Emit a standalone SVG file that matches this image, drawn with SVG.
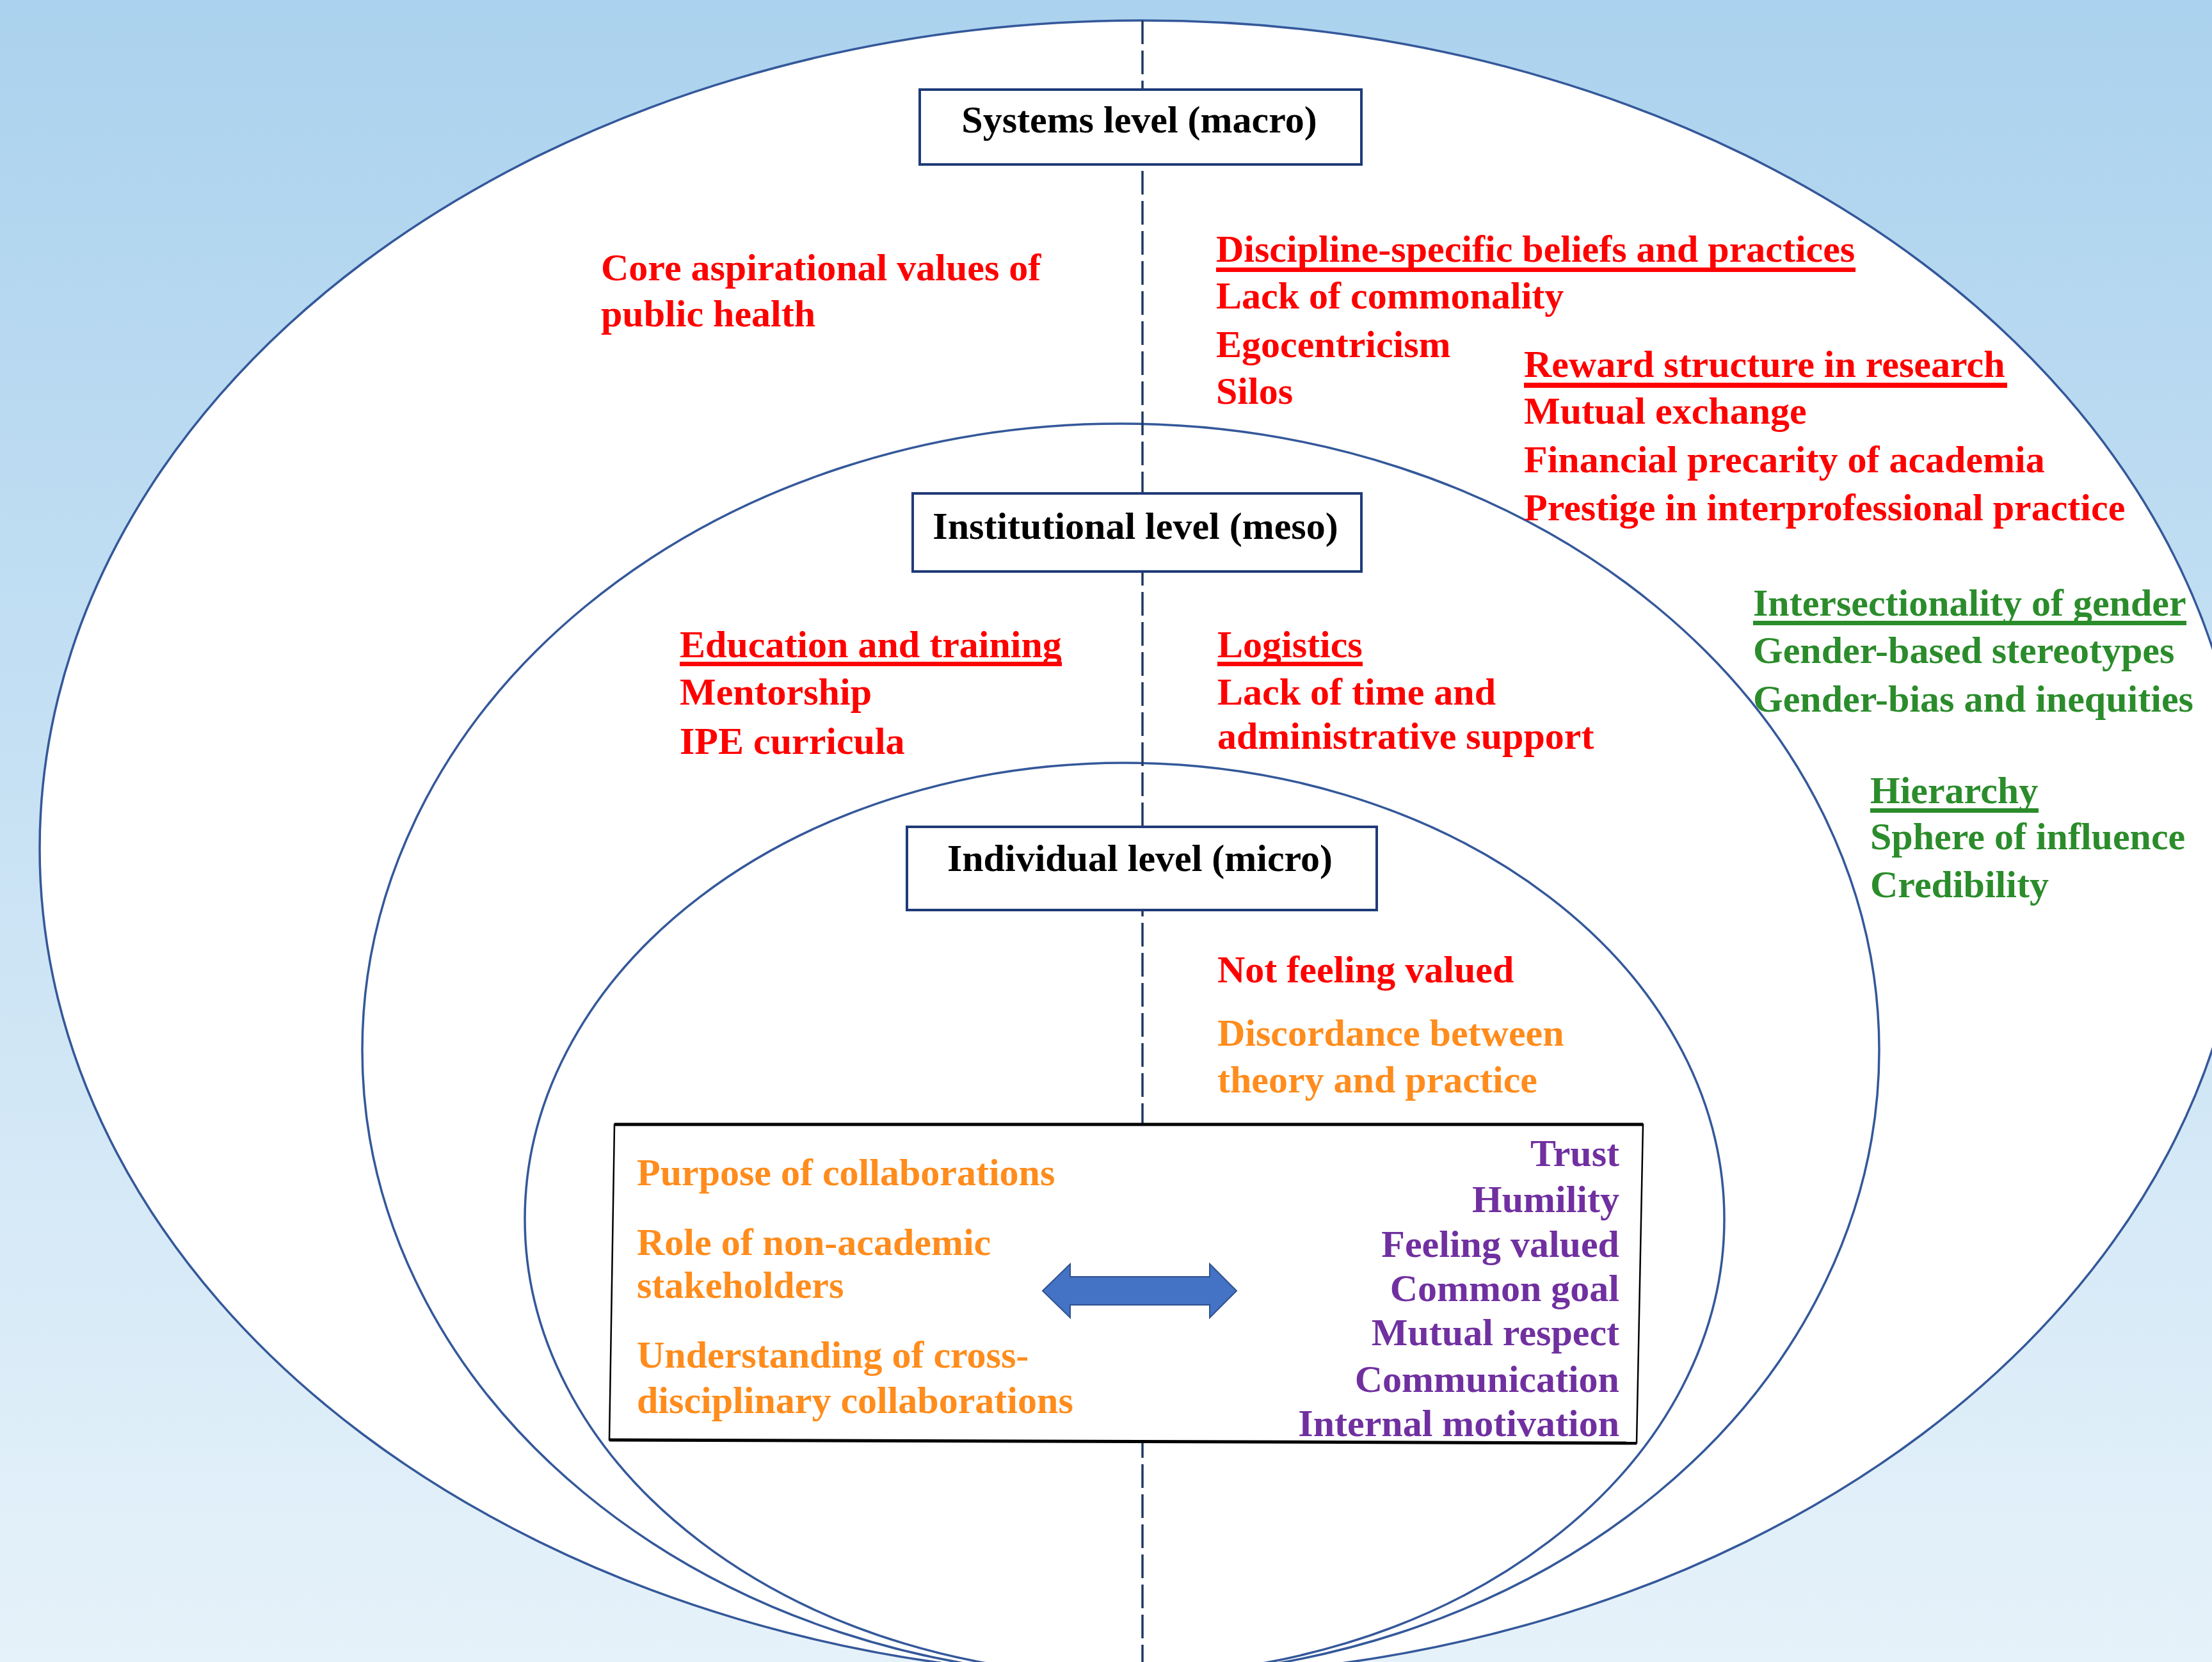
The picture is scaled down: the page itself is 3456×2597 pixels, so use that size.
<svg xmlns="http://www.w3.org/2000/svg" width="3456" height="2597" viewBox="0 0 3456 2597">
<defs>
<linearGradient id="bg" x1="0" y1="0" x2="0" y2="1">
<stop offset="0" stop-color="#abd2ee"/>
<stop offset="1" stop-color="#e6f2fa"/>
</linearGradient>
<style>
.t{font-family:"Liberation Serif","Times New Roman",serif;font-weight:bold;font-size:60px}
.red{fill:#ff0000}.grn{fill:#2b8c2b}.org{fill:#ff8c1c}.pur{fill:#7030a0}.blk{fill:#000}
.ell{fill:#fff;stroke:#34589a;stroke-width:3.5}
.box{fill:#fff;stroke:#1f3b78;stroke-width:4}
.ul-r{fill:#ff0000}.ul-g{fill:#2b8c2b}
</style>
</defs>
<rect x="0" y="0" width="3456" height="2597" fill="url(#bg)"/>
<g id="systems-ellipse"><ellipse class="ell" cx="1785" cy="1326" rx="1723" ry="1294"/></g>
<g id="institutional-ellipse"><ellipse class="ell" cx="1751" cy="1641" rx="1185" ry="979"/></g>
<g id="individual-ellipse"><ellipse class="ell" cx="1757" cy="1905" rx="937" ry="713"/></g>
<g id="connectors">
<line x1="1785" y1="32" x2="1785" y2="2597" stroke="#203864" stroke-width="3.5" stroke-dasharray="37 10"/>
</g>
<g id="systems-box">
<rect class="box" x="1437" y="140" width="690" height="117"/>
<text class="t blk" x="1780" y="207" text-anchor="middle">Systems level (macro)</text>
</g>
<g id="institutional-box">
<rect class="box" x="1426" y="771" width="701" height="122"/>
<text class="t blk" x="1774" y="842" text-anchor="middle">Institutional level (meso)</text>
</g>
<g id="individual-box">
<rect class="box" x="1417" y="1292" width="734" height="130"/>
<text class="t blk" x="1781" y="1361" text-anchor="middle">Individual level (micro)</text>
</g>
<g id="core-values">
<text class="t red" x="939" y="438">Core aspirational values of</text>
<text class="t red" x="939" y="510">public health</text>
</g>
<g id="discipline">
<text class="t red" x="1900" y="409">Discipline-specific beliefs and practices</text>
<rect class="ul-r" x="1900" y="418" width="999" height="7"/>
<text class="t red" x="1900" y="482">Lack of commonality</text>
<text class="t red" x="1900" y="558">Egocentricism</text>
<text class="t red" x="1900" y="631">Silos</text>
</g>
<g id="reward">
<text class="t red" x="2381" y="589">Reward structure in research</text>
<rect class="ul-r" x="2381" y="598" width="755" height="8"/>
<text class="t red" x="2381" y="662">Mutual exchange</text>
<text class="t red" x="2381" y="738">Financial precarity of academia</text>
<text class="t red" x="2381" y="813">Prestige in interprofessional practice</text>
</g>
<g id="education">
<text class="t red" x="1062" y="1027">Education and training</text>
<rect class="ul-r" x="1062" y="1034" width="597" height="7"/>
<text class="t red" x="1062" y="1101">Mentorship</text>
<text class="t red" x="1062" y="1178">IPE curricula</text>
</g>
<g id="logistics">
<text class="t red" x="1902" y="1027">Logistics</text>
<rect class="ul-r" x="1902" y="1034" width="227" height="7"/>
<text class="t red" x="1902" y="1101">Lack of time and</text>
<text class="t red" x="1902" y="1170">administrative support</text>
</g>
<g id="gender">
<text class="t grn" x="2739" y="962">Intersectionality of gender</text>
<rect class="ul-g" x="2739" y="970" width="677" height="7"/>
<text class="t grn" x="2739" y="1036">Gender-based stereotypes</text>
<text class="t grn" x="2739" y="1112">Gender-bias and inequities</text>
</g>
<g id="hierarchy">
<text class="t grn" x="2922" y="1255">Hierarchy</text>
<rect class="ul-g" x="2922" y="1263" width="263" height="7"/>
<text class="t grn" x="2922" y="1327">Sphere of influence</text>
<text class="t grn" x="2922" y="1402">Credibility</text>
</g>
<g id="individual-barriers">
<text class="t red" x="1902" y="1535">Not feeling valued</text>
<text class="t org" x="1902" y="1634">Discordance between</text>
<text class="t org" x="1902" y="1707">theory and practice</text>
</g>
<g id="collaboration-box">
<polygon points="960,1757 2567,1757 2557,2255 952,2250" fill="#fff" stroke="#000" stroke-width="2.5"/>
<line x1="960" y1="1757" x2="2567" y2="1757" stroke="#000" stroke-width="5"/>
<line x1="952" y1="2250" x2="2557" y2="2255" stroke="#000" stroke-width="5"/>
</g>
<g id="facilitators-left">
<text class="t org" x="995" y="1852">Purpose of collaborations</text>
<text class="t org" x="995" y="1961">Role of non-academic</text>
<text class="t org" x="995" y="2028">stakeholders</text>
<text class="t org" x="995" y="2137">Understanding of cross-</text>
<text class="t org" x="995" y="2208">disciplinary collaborations</text>
</g>
<g id="facilitators-right">
<text class="t pur" x="2530" y="1822" text-anchor="end">Trust</text>
<text class="t pur" x="2530" y="1894" text-anchor="end">Humility</text>
<text class="t pur" x="2530" y="1964" text-anchor="end">Feeling valued</text>
<text class="t pur" x="2530" y="2033" text-anchor="end">Common goal</text>
<text class="t pur" x="2530" y="2102" text-anchor="end">Mutual respect</text>
<text class="t pur" x="2530" y="2175" text-anchor="end">Communication</text>
<text class="t pur" x="2530" y="2244" text-anchor="end">Internal motivation</text>
</g>
<g id="connector-arrow">
<polygon points="1629,2017 1672,1975 1672,1995 1890,1995 1890,1975 1932,2017 1890,2059 1890,2039 1672,2039 1672,2059" fill="#4472c4" stroke="#2f528f" stroke-width="2"/>
</g>
</svg>
